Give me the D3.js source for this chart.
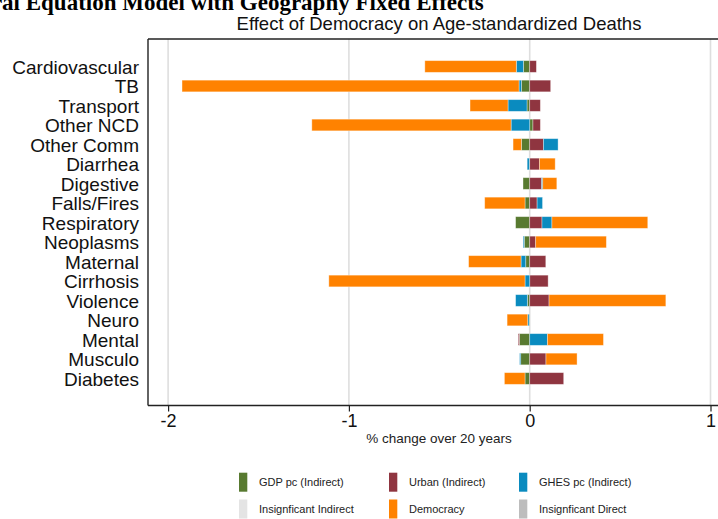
<!DOCTYPE html>
<html>
<head>
<meta charset="utf-8">
<script src="https://cdn.jsdelivr.net/npm/d3@7"></script>
<style>
  body { margin: 0; background: #fff; overflow: hidden; }
  text { font-family: "Liberation Sans", Arial, Helvetica, sans-serif; }
</style>
</head>
<body>
<div id="chart"></div>
<script>
const categories = ["Cardiovascular", "TB", "Transport", "Other NCD", "Other Comm", "Diarrhea",
  "Digestive", "Falls/Fires", "Respiratory", "Neoplasms", "Maternal", "Cirrhosis", "Violence",
  "Neuro", "Mental", "Musculo", "Diabetes"];

// % change over 20 years, per pathway
const gdp   = [-0.035, -0.046, -0.015, 0.018, -0.046, -0.002, -0.037, -0.026, -0.078, -0.030, -0.022, 0.000, -0.013, -0.003, -0.057, -0.050, -0.026];
const urban = [0.037, 0.116, 0.059, 0.041, 0.076, 0.054, 0.066, 0.041, 0.068, 0.033, 0.089, 0.102, 0.107, 0.000, -0.006, 0.090, 0.188];
const ghes  = [-0.039, -0.013, -0.105, -0.103, 0.081, -0.012, 0.006, 0.030, 0.055, -0.006, -0.026, -0.026, -0.065, -0.008, 0.098, -0.006, 0.000];
const democracy = [-0.506, -1.864, -0.210, -1.102, -0.046, 0.087, 0.078, -0.223, 0.530, 0.391, -0.290, -1.085, 0.646, -0.114, 0.310, 0.172, -0.114];

const xTicks = [-2, -1, 0, 1];
const legendItems = ["GDP pc (Indirect)", "Urban (Indirect)", "GHES pc (Indirect)",
  "Insignficant Indirect", "Democracy", "Insignficant Direct"];

const width = 718, height = 519;
const plot = { left: 148, right: 730, top: 39, bottom: 405.5 };

const colors = {
  gdp: "#587a30",
  urban: "#8f3540",
  ghes: "#0a8bbf",
  democracy: "#ff8200"
};
const legendColors = [colors.gdp, colors.urban, colors.ghes, "#e4e4e4", colors.democracy, "#bdbdbd"];

const svg = d3.select("#chart")
  .append("svg")
  .attr("width", width)
  .attr("height", height);

const rows = categories.map((c, i) => ({
  cat: c, gdp: gdp[i], urban: urban[i], ghes: ghes[i], democracy: democracy[i]
}));
const keys = ["gdp", "urban", "ghes", "democracy"];
const series = d3.stack().keys(keys).offset(d3.stackOffsetDiverging)(rows);

const x = d3.scaleLinear().domain([-2, 1]).range([168.1, 710.5]);
const y = d3.scaleBand().domain(categories).range([56.75, 388.25]).paddingInner(0.4).paddingOuter(0.2);

// cut-off main title at top
const mainTitle = svg.append("text")
  .attr("y", 9.5)
  .attr("font-family", "'Liberation Serif', 'Times New Roman', serif")
  .attr("font-weight", "bold")
  .attr("font-size", "23px")
  .attr("fill", "#000")
  .style("font-family", "'Liberation Serif', 'Times New Roman', serif")
  .text("Structural Equation Model with Geography Fixed Effects");
const probe = svg.append("text")
  .style("font-family", "'Liberation Serif', 'Times New Roman', serif")
  .attr("font-weight", "bold").attr("font-size", "23px")
  .text("Structural ");
const offset = probe.node().getComputedTextLength();
probe.remove();
mainTitle.attr("x", 20 - offset);

svg.append("text")
  .attr("x", (plot.left + plot.right) / 2)
  .attr("y", 30)
  .attr("text-anchor", "middle")
  .attr("font-size", "18.5px")
  .attr("fill", "#111")
  .text("Effect of Democracy on Age-standardized Deaths");

// grid lines
svg.append("g")
  .selectAll("line")
  .data(xTicks)
  .join("line")
  .attr("x1", d => x(d)).attr("x2", d => x(d))
  .attr("y1", plot.top).attr("y2", plot.bottom)
  .attr("stroke", "#dedede")
  .attr("stroke-width", 1.6);

// bars
svg.append("g")
  .selectAll("g")
  .data(series)
  .join("g")
  .attr("fill", d => colors[d.key])
  .selectAll("rect")
  .data(d => d)
  .join("rect")
  .attr("x", d => x(Math.min(d[0], d[1])))
  .attr("width", d => Math.abs(x(d[1]) - x(d[0])))
  .attr("y", d => y(d.data.cat))
  .attr("height", y.bandwidth())
  .attr("stroke", "#ffffff")
  .attr("stroke-opacity", 0.45)
  .attr("stroke-width", 0.8);

// frame
svg.append("line")
  .attr("x1", plot.left).attr("x2", plot.right)
  .attr("y1", plot.top).attr("y2", plot.top)
  .attr("stroke", "#222").attr("stroke-width", 1.4);
svg.append("line")
  .attr("x1", plot.left).attr("x2", plot.left)
  .attr("y1", plot.top).attr("y2", plot.bottom)
  .attr("stroke", "#222").attr("stroke-width", 1.4);

// x axis
const xAxis = svg.append("g")
  .attr("transform", `translate(0,${plot.bottom})`)
  .call(d3.axisBottom(x).tickValues(xTicks).tickSize(6).tickPadding(3).tickFormat(d3.format("d")));
xAxis.select(".domain").remove();
xAxis.append("line")
  .attr("x1", plot.left).attr("x2", plot.right)
  .attr("stroke", "#222").attr("stroke-width", 1.4);
xAxis.selectAll(".tick line").attr("stroke", "#222").attr("stroke-width", 1.2);
xAxis.selectAll(".tick text")
  .attr("font-size", "18px")
  .attr("fill", "#111")
  .style("font-family", "'Liberation Sans', Arial, sans-serif")
  .text(d => d < 0 ? "-" + Math.abs(d) : d);

svg.append("text")
  .attr("x", (plot.left + plot.right) / 2)
  .attr("y", 443)
  .attr("text-anchor", "middle")
  .attr("font-size", "13.5px")
  .attr("fill", "#222")
  .text("% change over 20 years");

// category labels
svg.append("g")
  .selectAll("text")
  .data(categories)
  .join("text")
  .attr("x", 139)
  .attr("y", d => y(d) + y.bandwidth() / 2 + 7)
  .attr("text-anchor", "end")
  .attr("font-size", "19px")
  .attr("fill", "#111")
  .text(d => d);

// legend
const legendX = [239, 389, 519];
const legendY = [472.7, 499.5];
const legend = svg.append("g")
  .selectAll("g")
  .data(legendItems)
  .join("g")
  .attr("transform", (d, i) => `translate(${legendX[i % 3]},${legendY[Math.floor(i / 3)]})`);
legend.append("rect")
  .attr("width", 8.3)
  .attr("height", 19)
  .attr("fill", (d, i) => legendColors[i]);
legend.append("text")
  .attr("x", 20)
  .attr("y", 13.5)
  .attr("font-size", "11px")
  .attr("fill", "#222")
  .text(d => d);
</script>
</body>
</html>
